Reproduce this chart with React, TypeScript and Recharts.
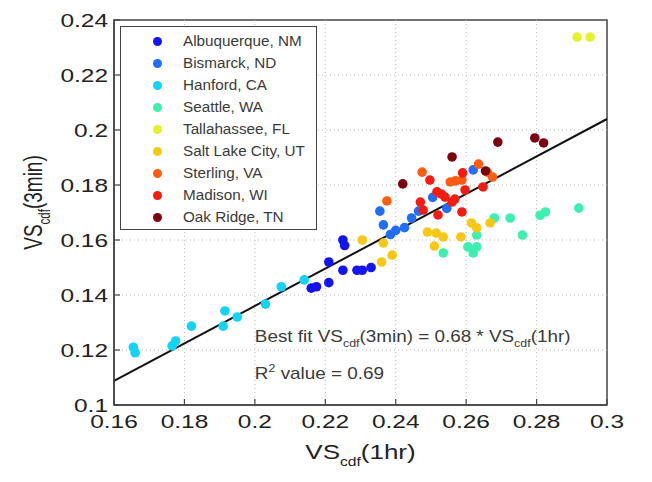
import {
  Legend,
  ReferenceArea,
  ReferenceDot,
  ReferenceLine,
  Scatter,
  ScatterChart,
  XAxis,
  YAxis,
} from "recharts";

// --- data ---
const X_TICKS = [0.16, 0.18, 0.2, 0.22, 0.24, 0.26, 0.28, 0.3];
const Y_TICKS = [0.1, 0.12, 0.14, 0.16, 0.18, 0.2, 0.22, 0.24];

const ALBUQUERQUE = [
  [0.216, 0.1425], [0.2175, 0.143], [0.221, 0.1445], [0.221, 0.152], [0.225, 0.149],
  [0.229, 0.149], [0.2305, 0.149], [0.233, 0.15], [0.225, 0.16], [0.2255, 0.158],
];
const BISMARCK = [
  [0.2355, 0.1705], [0.2365, 0.1655], [0.2385, 0.162], [0.24, 0.1635], [0.2425, 0.1645],
  [0.2445, 0.168], [0.2465, 0.1705], [0.2505, 0.1755], [0.2545, 0.1715], [0.262, 0.1855],
];
const HANFORD = [
  [0.1655, 0.121], [0.166, 0.119], [0.1765, 0.1215], [0.1775, 0.1233], [0.182, 0.1287],
  [0.1915, 0.1342], [0.191, 0.1287], [0.195, 0.132], [0.203, 0.1367], [0.2075, 0.143],
  [0.214, 0.1455],
];
const SEATTLE = [
  [0.2535, 0.1553], [0.2605, 0.1575], [0.263, 0.1575], [0.262, 0.1553], [0.263, 0.1618],
  [0.268, 0.168], [0.2725, 0.168], [0.276, 0.1618], [0.281, 0.169], [0.2825, 0.1702],
  [0.292, 0.1716],
];
const TALLAHASSEE = [[0.2915, 0.2338], [0.2952, 0.2338]];
const SALT_LAKE = [
  [0.2305, 0.16], [0.2365, 0.1589], [0.236, 0.152], [0.239, 0.1545], [0.249, 0.1629],
  [0.2515, 0.1625], [0.2535, 0.1611], [0.251, 0.1578], [0.2585, 0.1611], [0.2615, 0.1662],
  [0.263, 0.1644], [0.2668, 0.1662],
];
const STERLING = [
  [0.2375, 0.1742], [0.2475, 0.1847], [0.2555, 0.1811], [0.257, 0.1815], [0.2588, 0.1818],
  [0.2635, 0.1876], [0.266, 0.1847], [0.2675, 0.1829],
];
const MADISON = [
  [0.247, 0.1738], [0.2478, 0.1709], [0.2497, 0.1818], [0.2517, 0.1775], [0.253, 0.1767],
  [0.254, 0.1756], [0.256, 0.1738], [0.2568, 0.1749], [0.259, 0.1844], [0.2597, 0.1782],
  [0.2588, 0.1702], [0.252, 0.1691], [0.2648, 0.1793],
];
const OAK_RIDGE = [
  [0.242, 0.1804], [0.256, 0.1902], [0.2655, 0.1851], [0.269, 0.1956], [0.2795, 0.1971],
  [0.282, 0.1953],
];

const SITES = [
  { name: "Albuquerque, NM", color: "#1414f0", pts: ALBUQUERQUE },
  { name: "Bismarck, ND", color: "#1f6ef5", pts: BISMARCK },
  { name: "Hanford, CA", color: "#12d4f4", pts: HANFORD },
  { name: "Seattle, WA", color: "#3cf0b0", pts: SEATTLE },
  { name: "Tallahassee, FL", color: "#e2f428", pts: TALLAHASSEE },
  { name: "Salt Lake City, UT", color: "#f6c814", pts: SALT_LAKE },
  { name: "Sterling, VA", color: "#ff5c12", pts: STERLING },
  { name: "Madison, WI", color: "#f41c12", pts: MADISON },
  { name: "Oak Ridge, TN", color: "#7c0410", pts: OAK_RIDGE },
];

const FIT_SLOPE = 0.68;
const R2_VALUE = 0.69;

const FONT = "'Liberation Sans', Arial, sans-serif";
const INK = "#222";
const AXIS = "#444";
const GRID = "#b8b8b8";

const fmt = (v: number) => String(+v.toFixed(2));

// ticks point inwards like matlab, labels stretched a bit to match the scan
function XTick({ x, y, payload }: any) {
  return (
    <g>
      <line x1={x} y1={y} x2={x} y2={y - 6} stroke={AXIS} strokeWidth={1.2} />
      <text
        transform={`translate(${x},${y + 23}) scale(1.36,1)`}
        textAnchor="middle"
        fontFamily={FONT}
        fontSize={18}
        fill={INK}
      >
        {fmt(payload.value)}
      </text>
    </g>
  );
}

function YTick({ x, y, payload }: any) {
  return (
    <g>
      <line x1={x} y1={y} x2={x + 6} y2={y} stroke={AXIS} strokeWidth={1.2} />
      <text
        transform={`translate(${x - 6},${y + 6.5}) scale(1.36,1)`}
        textAnchor="end"
        fontFamily={FONT}
        fontSize={18}
        fill={INK}
      >
        {fmt(payload.value)}
      </text>
    </g>
  );
}

function XTitle({ viewBox }: any) {
  const cx = viewBox.x + viewBox.width / 2;
  return (
    <text
      transform={`translate(${cx},${viewBox.y + 54}) scale(1.3,1)`}
      textAnchor="middle"
      fontFamily={FONT}
      fontSize={20}
      fill={INK}
    >
      VS<tspan fontSize={12} dy={7}>cdf</tspan>
      <tspan dy={-7}>(1hr)</tspan>
    </text>
  );
}

function YTitle({ viewBox }: any) {
  const cy = viewBox.y + viewBox.height / 2 - 10;
  return (
    <text
      transform={`translate(${viewBox.x - 12},${cy}) scale(1.4,1) rotate(-90)`}
      textAnchor="middle"
      fontFamily={FONT}
      fontSize={19}
      fill={INK}
    >
      VS<tspan fontSize={11.5} dy={6}>cdf</tspan>
      <tspan dy={-6}>(3min)</tspan>
    </text>
  );
}

function FitNote({ viewBox }: any) {
  const { x, y } = viewBox;
  const common = { fontFamily: FONT, fontSize: 16, fill: "#3a3a3a" };
  return (
    <g>
      <text transform={`translate(${x},${y}) scale(1.18,1)`} {...common}>
        Best fit VS<tspan fontSize={10.5} dy={5}>cdf</tspan>
        <tspan dy={-5}>(3min) = {FIT_SLOPE} * VS</tspan>
        <tspan fontSize={10.5} dy={5}>cdf</tspan>
        <tspan dy={-5}>(1hr)</tspan>
      </text>
      <text transform={`translate(${x},${y + 37}) scale(1.18,1)`} {...common}>
        R<tspan fontSize={10.5} dy={-7}>2</tspan>
        <tspan dy={7}> value = {R2_VALUE}</tspan>
      </text>
    </g>
  );
}

function SiteLegend() {
  return (
    <div
      style={{
        width: 197,
        height: 204,
        boxSizing: "border-box",
        border: `1.5px solid ${AXIS}`,
        background: "#fff",
        position: "relative",
        fontFamily: FONT,
      }}
    >
      {SITES.map((s, i) => (
        <div key={s.name}>
          <span
            style={{
              position: "absolute",
              left: 32,
              top: 10 + i * 22,
              width: 9,
              height: 9,
              borderRadius: "50%",
              background: s.color,
            }}
          />
          <span
            style={{
              position: "absolute",
              left: 62,
              top: 5 + i * 22,
              fontSize: 14,
              lineHeight: "18px",
              color: "#3a3a3a",
              whiteSpace: "nowrap",
              transform: "scaleX(1.09)",
              transformOrigin: "left center",
            }}
          >
            {s.name}
          </span>
        </div>
      ))}
    </div>
  );
}

export default function App() {
  const innerX = X_TICKS.slice(1, -1);
  const innerY = Y_TICKS.slice(1, -1);
  return (
    <div style={{ position: "absolute", left: 0, top: 0, background: "#fff" }}>
      <ScatterChart width={652} height={482} margin={{ top: 20, right: 45, bottom: 37, left: 54 }}>
        <XAxis
          type="number"
          dataKey="x"
          domain={[0.16, 0.3]}
          ticks={X_TICKS}
          interval={0}
          height={40}
          tickSize={0}
          tickMargin={0}
          tickLine={false}
          tick={<XTick />}
          axisLine={{ stroke: AXIS, strokeWidth: 1.5 }}
          label={{ content: XTitle }}
        />
        <YAxis
          type="number"
          dataKey="y"
          domain={[0.1, 0.24]}
          ticks={Y_TICKS}
          interval={0}
          width={60}
          tickSize={0}
          tickMargin={0}
          tickLine={false}
          tick={<YTick />}
          axisLine={{ stroke: AXIS, strokeWidth: 1.5 }}
          label={{ content: YTitle }}
        />
        {/* matlab "grid on": faint dotted lines */}
        {innerX.map((v) => (
          <ReferenceLine key={`gx${v}`} x={v} stroke={GRID} strokeDasharray="1 3" />
        ))}
        {innerY.map((v) => (
          <ReferenceLine key={`gy${v}`} y={v} stroke={GRID} strokeDasharray="1 3" />
        ))}
        <ReferenceArea x1={0.16} x2={0.3} y1={0.1} y2={0.24} fill="none" stroke={AXIS} strokeWidth={1.5} />
        {SITES.map((s) => (
          <Scatter
            key={s.name}
            name={s.name}
            data={s.pts.map(([x, y]) => ({ x, y }))}
            fill={s.color}
            isAnimationActive={false}
            shape={(p: any) => <circle cx={p.cx} cy={p.cy} r={4.8} fill={s.color} />}
          />
        ))}
        <ReferenceLine
          segment={[
            { x: 0.16, y: FIT_SLOPE * 0.16 },
            { x: 0.3, y: FIT_SLOPE * 0.3 },
          ]}
          stroke="#111"
          strokeWidth={2}
        />
        <ReferenceDot x={0.2} y={0.123} r={0} fill="none" stroke="none" label={{ content: FitNote }} />
        <Legend
          layout="vertical"
          align="center"
          verticalAlign="middle"
          width={197}
          height={204}
          wrapperStyle={{ left: 120, top: 26, width: 197, height: 204 }}
          content={() => <SiteLegend />}
        />
      </ScatterChart>
    </div>
  );
}
